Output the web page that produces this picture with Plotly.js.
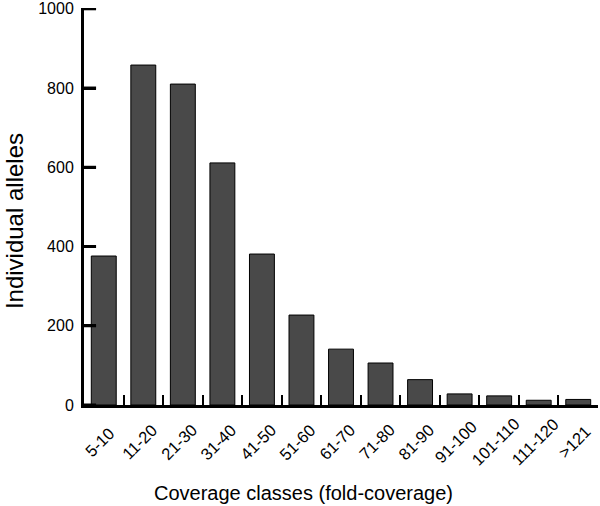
<!DOCTYPE html>
<html><head><meta charset="utf-8">
<script src="https://cdn.plot.ly/plotly-3.0.1.min.js"></script>
<style>html,body{margin:0;padding:0;background:#fff}#chart{width:600px;height:506px}</style>
</head><body><div id="chart"></div>
<script>
const categories = ["5-10","11-20","21-30","31-40","41-50","51-60","61-70","71-80","81-90","91-100","101-110","111-120",">121"];
const alleles = [376, 858, 810, 611, 381, 227, 141, 106, 64, 28, 23, 12, 14];
const yTicks = [0, 200, 400, 600, 800, 1000];
const xTitle = 'Coverage classes (fold-coverage)';
const yTitle = 'Individual alleles';

const font = "'Liberation Sans', Arial, sans-serif";

// category tick labels, centred and rotated like the original
const tickLabels = categories.map(c => ({
  text: c, xref: 'x', yref: 'paper', x: c, y: -0.0932, xanchor: 'center', yanchor: 'middle',
  xshift: -4, textangle: -45, showarrow: false, font: {size: 16.5, family: font, color: '#000'}
}));

// inward y tick marks at the tick values
const yTickMarks = yTicks.map(v => ({
  type: 'line', xref: 'paper', yref: 'y', x0: 0, x1: 0.0235, y0: v, y1: v,
  line: {color: '#000', width: 3}, layer: 'above'
}));

Plotly.newPlot('chart', [{
  type: 'bar', x: categories, y: alleles,
  marker: {color: '#494949', line: {color: '#000', width: 1}},
  hoverinfo: 'skip'
}], {
  width: 600, height: 506,
  margin: {l: 84, r: 2, t: 8, b: 101},
  bargap: 0.37,
  paper_bgcolor: '#fff', plot_bgcolor: '#fff',
  showlegend: false,
  font: {family: font, color: '#000', size: 15},
  xaxis: {
    type: 'category', range: [-0.5, categories.length - 0.5], autorange: false,
    tickson: 'boundaries', ticks: 'inside', ticklen: 10, tickwidth: 2, tickcolor: '#000',
    showline: true, linewidth: 2.5, linecolor: '#000', showgrid: false, zeroline: false,
    showticklabels: false
  },
  yaxis: {
    range: [0, 1002], autorange: false, tickvals: yTicks, ticktext: yTicks.map(String),
    ticks: 'inside', ticklen: 12, tickwidth: 3, tickcolor: '#000',
    showline: true, linewidth: 3, linecolor: '#000', showgrid: false, zeroline: false,
    tickfont: {size: 16, family: font}, ticklabelstandoff: 4, ticklabeloverflow: 'allow'
  },
  shapes: yTickMarks,
  annotations: tickLabels.concat([
    {text: yTitle, xref: 'paper', yref: 'paper', x: -0.134, y: 0.4635, xanchor: 'center', yanchor: 'middle',
     textangle: -90, showarrow: false, font: {size: 24, family: font, color: '#000'}},
    {text: xTitle, xref: 'paper', yref: 'paper', x: 0.427, y: -0.2217, xanchor: 'center', yanchor: 'middle',
     showarrow: false, font: {size: 20, family: font, color: '#000'}}
  ])
}, {displayModeBar: false, staticPlot: true});
</script></body></html>
